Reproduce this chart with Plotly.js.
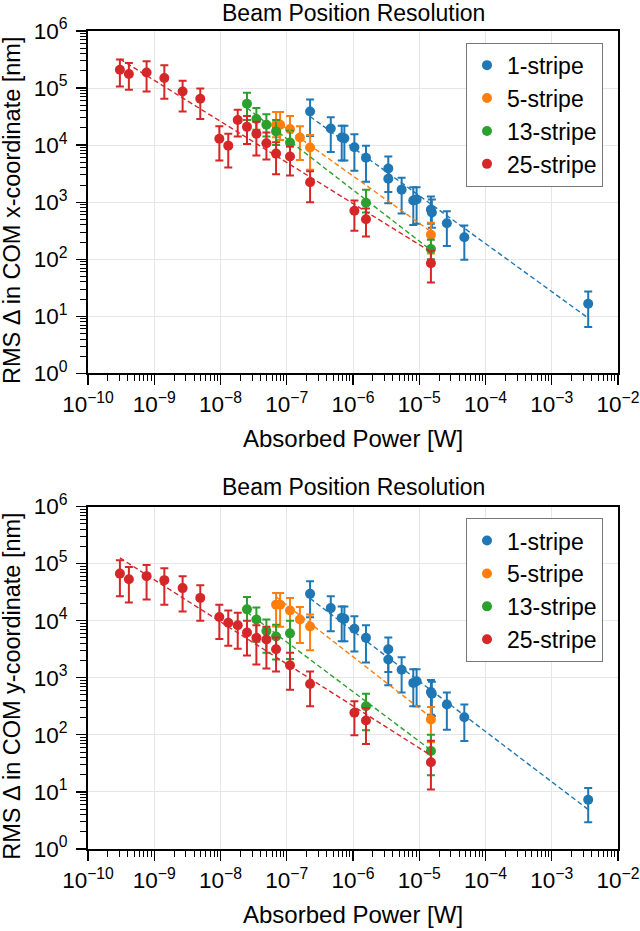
<!DOCTYPE html>
<html><head><meta charset="utf-8">
<script src="https://cdn.plot.ly/plotly-3.0.1.min.js"></script>
<style>html,body{margin:0;padding:0;background:#fff}#chart{width:640px;height:931px}</style>
</head><body><div id="chart"></div>
<script>
// ---------- data ----------
const seriesNames = ['1-stripe', '5-stripe', '13-stripe', '25-stripe'];
const seriesColors = ['#1f77b4', '#ff7f0e', '#2ca02c', '#d62728'];

// Absorbed power [W]
const power1 = [2.25e-7, 4.62e-7, 6.76e-7, 7.41e-7, 1.05e-6, 1.57e-6, 3.41e-6, 3.41e-6, 5.42e-6, 8.13e-6, 9.12e-6, 1.50e-5, 1.55e-5, 2.61e-5, 4.79e-5, 3.55e-3];
const power5 = [6.90e-8, 7.94e-8, 1.12e-7, 1.58e-7, 2.25e-7, 1.50e-5];
const power13 = [2.51e-8, 3.48e-8, 4.93e-8, 6.90e-8, 1.12e-7, 1.57e-6, 1.50e-5];
const power25 = [3.03e-10, 4.14e-10, 7.66e-10, 1.42e-9, 2.68e-9, 4.95e-9, 9.6e-9, 1.31e-8, 1.82e-8, 2.51e-8, 3.48e-8, 4.93e-8, 6.90e-8, 1.12e-7, 2.25e-7, 1.05e-6, 1.57e-6, 1.50e-5];

// RMS delta in COM x-coordinate [nm]: value, upper and lower error bar ends
const comX1 = [3.89e4, 1.95e4, 1.36e4, 1.32e4, 9.2e3, 6.0e3, 3.89e3, 2.57e3, 1.66e3, 1.07e3, 1.12e3, 741, 661, 427, 243, 16.6];
const comX1Hi = [6.3e4, 3.09e4, 2.19e4, 2.19e4, 1.55e4, 9.8e3, 6.3e3, 4.17e3, 2.69e3, 1.82e3, 1.82e3, 1.26e3, 1.12e3, 692, 389, 27.2];
const comX1Lo = [1.45e4, 7.6e3, 5.4e3, 5.4e3, 3.55e3, 2.29e3, 1.51e3, 955, 631, 398, 417, 417, 355, 170, 98, 6.5];

const comX5 = [2.28e4, 2.28e4, 1.91e4, 1.36e4, 9.1e3, 269];
const comX5Hi = [3.8e4, 3.8e4, 3.24e4, 2.14e4, 1.51e4, 437];
const comX5Lo = [1.38e4, 1.23e4, 9.5e3, 5.5e3, 3.72e3, 126];

const comX13 = [5.3e4, 2.86e4, 2.28e4, 1.74e4, 1.11e4, 977, 151];
const comX13Hi = [8.3e4, 4.47e4, 3.47e4, 2.75e4, 1.78e4, 1.66e3, 219];
const comX13Lo = [2.75e4, 1.86e4, 1.41e4, 1.0e4, 6.8e3, 661, 100];

const comX25 = [2.09e5, 1.76e5, 1.88e5, 1.50e5, 8.7e4, 6.5e4, 1.29e4, 9.8e3, 2.75e4, 2.09e4, 1.58e4, 1.08e4, 7.1e3, 6.3e3, 2.24e3, 708, 501, 85];
const comX25Hi = [3.16e5, 2.75e5, 2.95e5, 2.51e5, 1.35e5, 9.8e4, 2.14e4, 1.58e4, 4.17e4, 3.24e4, 2.57e4, 1.66e4, 1.12e4, 9.5e3, 3.47e3, 1.07e3, 776, 141];
const comX25Lo = [1.07e5, 9.3e4, 8.7e4, 6.5e4, 3.89e4, 2.88e4, 5.4e3, 4.07e3, 1.41e4, 1.05e4, 6.6e3, 5.6e3, 3.09e3, 2.95e3, 1000, 316, 251, 39];

// RMS delta in COM y-coordinate [nm]
const comY1 = [2.95e4, 1.66e4, 1.12e4, 1.08e4, 7.2e3, 5.0e3, 3.16e3, 2.09e3, 1.38e3, 813, 871, 562, 525, 339, 204, 7.3];
const comY1Hi = [4.9e4, 2.69e4, 1.78e4, 1.78e4, 1.2e4, 8.3e3, 5.1e3, 3.39e3, 2.29e3, 1.41e3, 1.41e3, 912, 851, 550, 339, 11.7];
const comY1Lo = [1.15e4, 6.5e3, 4.37e3, 4.37e3, 2.88e3, 1.86e3, 1.26e3, 741, 550, 316, 316, 224, 214, 123, 78, 2.95];

const comY5 = [1.91e4, 1.91e4, 1.51e4, 1.05e4, 7.9e3, 186];
const comY5Hi = [3.05e4, 3.05e4, 2.51e4, 1.74e4, 1.29e4, 309];
const comY5Lo = [7.9e3, 7.8e3, 6.0e3, 4.07e3, 3.02e3, 74];

const comY13 = [1.58e4, 1.05e4, 6.6e3, 5.3e3, 6.0e3, 316, 52];
const comY13Hi = [2.6e4, 1.70e4, 1.05e4, 8.5e3, 1.0e4, 525, 100];
const comY13Lo = [6.3e3, 4.27e3, 2.75e3, 2.09e3, 2.14e3, 120, 19.5];

const comY25 = [6.68e4, 5.31e4, 6.03e4, 5.13e4, 3.72e4, 2.51e4, 1.16e4, 9.2e3, 8.3e3, 6.2e3, 5.0e3, 4.68e3, 3.16e3, 1.66e3, 776, 243, 178, 33];
const comY25Hi = [1.15e5, 8.7e4, 9.5e4, 8.3e4, 6.0e4, 4.17e4, 1.91e4, 1.51e4, 1.38e4, 1.0e4, 8.3e3, 7.8e3, 5.1e3, 2.75e3, 1.29e3, 389, 295, 79];
const comY25Lo = [2.69e4, 2.09e4, 2.34e4, 1.91e4, 1.45e4, 1.0e4, 4.79e3, 3.63e3, 3.24e3, 2.45e3, 1.70e3, 1.45e3, 1.29e3, 617, 316, 98, 69, 11];

// power-law fits  y = 10^logA * x^slope  (order: 1, 5, 13, 25 stripes)
const fitSlopeX = [-0.841, -0.828, -0.897, -0.720];
const fitLogAX = [-1.090, -1.509, -2.167, -1.344];
const fitSlopeY = [-0.881, -0.903, -0.870, -0.737];
const fitLogAY = [-1.466, -2.049, -2.464, -1.916];

// tick labels
const xTickVals = [1e-10, 1e-9, 1e-8, 1e-7, 1e-6, 1e-5, 1e-4, 1e-3, 1e-2];
const xTickText = ['10<sup>−10</sup>', '10<sup>−9</sup>', '10<sup>−8</sup>', '10<sup>−7</sup>', '10<sup>−6</sup>', '10<sup>−5</sup>', '10<sup>−4</sup>', '10<sup>−3</sup>', '10<sup>−2</sup>'];
const yTickVals = [1, 10, 100, 1e3, 1e4, 1e5, 1e6];
const yTickText = ['10<sup>0</sup>', '10<sup>1</sup>', '10<sup>2</sup>', '10<sup>3</sup>', '10<sup>4</sup>', '10<sup>5</sup>', '10<sup>6</sup>'];

const chartTitle = 'Beam Position Resolution';
const xTitle = 'Absorbed Power [W]';
const yTitleTop = 'RMS Δ in COM x-coordinate [nm]';
const yTitleBottom = 'RMS Δ in COM y-coordinate [nm]';

// ---------- build ----------
const powers = [power1, power5, power13, power25];
const panels = [
  {xa: 'x', ya: 'y', legend: 'legend', vals: [comX1, comX5, comX13, comX25], hi: [comX1Hi, comX5Hi, comX13Hi, comX25Hi], lo: [comX1Lo, comX5Lo, comX13Lo, comX25Lo], slope: fitSlopeX, logA: fitLogAX},
  {xa: 'x2', ya: 'y2', legend: 'legend2', vals: [comY1, comY5, comY13, comY25], hi: [comY1Hi, comY5Hi, comY13Hi, comY25Hi], lo: [comY1Lo, comY5Lo, comY13Lo, comY25Lo], slope: fitSlopeY, logA: fitLogAY}
];

const traces = [];
panels.forEach(p => {
  seriesNames.forEach((name, i) => {
    const xs = powers[i], ys = p.vals[i];
    traces.push({
      type: 'scatter', mode: 'markers', name: name,
      x: xs, y: ys, xaxis: p.xa, yaxis: p.ya, legend: p.legend,
      marker: {color: seriesColors[i], size: 10},
      error_y: {type: 'data', symmetric: false,
        array: ys.map((v, k) => p.hi[i][k] - v),
        arrayminus: ys.map((v, k) => v - p.lo[i][k]),
        color: seriesColors[i], thickness: 2, width: 4},
      cliponaxis: false
    });
  });
  seriesNames.forEach((name, i) => {
    const xs = powers[i];
    const xmin = Math.min(...xs), xmax = Math.max(...xs);
    const fx = [xmin, xmax];
    traces.push({
      type: 'scatter', mode: 'lines', showlegend: false, hoverinfo: 'skip',
      x: fx, y: fx.map(v => Math.pow(10, p.logA[i] + p.slope[i] * Math.log10(v))),
      xaxis: p.xa, yaxis: p.ya,
      line: {color: seriesColors[i], width: 1.4, dash: '5px,3px'}
    });
  });
});

function minorVals(lo, hi) {
  const out = [];
  for (let k = lo; k < hi; k++) for (let m = 2; m <= 9; m++) out.push(m * Math.pow(10, k));
  return out;
}

const font = {family: '"Liberation Sans", Arial, Helvetica, sans-serif', color: '#000'};
function axis(extra) {
  return Object.assign({
    type: 'log', showline: true, linecolor: '#000', linewidth: 2, mirror: true,
    ticks: 'outside', ticklen: 10, tickwidth: 1.3, tickcolor: '#000',
    showgrid: true, gridcolor: '#e6e6e6', gridwidth: 1, zeroline: false,
    tickfont: Object.assign({size: 22.5}, font), tickmode: 'array', ticklabeloverflow: 'allow'
  }, extra);
}
const xMinor = {tickmode: 'array', tickvals: minorVals(-10, -2), ticks: 'outside', ticklen: 6, tickwidth: 1, tickcolor: '#000', showgrid: false};
const yMinor = {tickmode: 'array', tickvals: minorVals(0, 6), ticks: 'outside', ticklen: 6, tickwidth: 1, tickcolor: '#000', showgrid: false};

const T = 31, B = 849.3, H = B - T;
const py = v => (B - v) / H;
const L = 88, R = 618, W = R - L;
const px = v => (v - L) / W;

const legendStyle = {xanchor: 'left', yanchor: 'top', bgcolor: '#fff', bordercolor: '#777', borderwidth: 1,
  font: Object.assign({size: 23}, font), tracegroupgap: 0};

const layout = {
  width: 640, height: 931,
  margin: {l: L, r: 640 - R, t: T, b: 931 - B},
  paper_bgcolor: '#fff', plot_bgcolor: '#fff',
  font: font, showlegend: true,
  xaxis: axis({domain: [0, 1], anchor: 'y', range: [-10, -2], tickvals: xTickVals, ticktext: xTickText, minor: xMinor}),
  yaxis: axis({domain: [py(373.5), 1], anchor: 'x', range: [0, 6], tickvals: yTickVals, ticktext: yTickText, minor: yMinor, ticklabelstandoff: 4}),
  xaxis2: axis({domain: [0, 1], anchor: 'y2', range: [-10, -2], tickvals: xTickVals, ticktext: xTickText, minor: xMinor}),
  yaxis2: axis({domain: [0, py(506.7)], anchor: 'x2', range: [0, 6], tickvals: yTickVals, ticktext: yTickText, minor: yMinor, ticklabelstandoff: 4}),
  legend: Object.assign({x: px(466), y: py(42.7)}, legendStyle),
  legend2: Object.assign({x: px(466), y: py(518.3)}, legendStyle),
  annotations: [
    {text: chartTitle, xref: 'paper', yref: 'paper', x: 0.5, y: py(12.5), xanchor: 'center', yanchor: 'middle', showarrow: false, font: Object.assign({size: 23}, font)},
    {text: chartTitle, xref: 'paper', yref: 'paper', x: 0.5, y: py(487), xanchor: 'center', yanchor: 'middle', showarrow: false, font: Object.assign({size: 23}, font)},
    {text: xTitle, xref: 'paper', yref: 'paper', x: 0.5, y: py(439), xanchor: 'center', yanchor: 'middle', showarrow: false, font: Object.assign({size: 24}, font)},
    {text: xTitle, xref: 'paper', yref: 'paper', x: 0.5, y: py(914.5), xanchor: 'center', yanchor: 'middle', showarrow: false, font: Object.assign({size: 24}, font)},
    {text: yTitleTop, xref: 'paper', yref: 'paper', x: px(12), y: py(211), xanchor: 'center', yanchor: 'middle', textangle: -90, showarrow: false, font: Object.assign({size: 23.5}, font)},
    {text: yTitleBottom, xref: 'paper', yref: 'paper', x: px(12), y: py(687), xanchor: 'center', yanchor: 'middle', textangle: -90, showarrow: false, font: Object.assign({size: 23.5}, font)}
  ]
};

Plotly.newPlot('chart', traces, layout, {displayModeBar: false, staticPlot: true});
</script>
</body></html>
